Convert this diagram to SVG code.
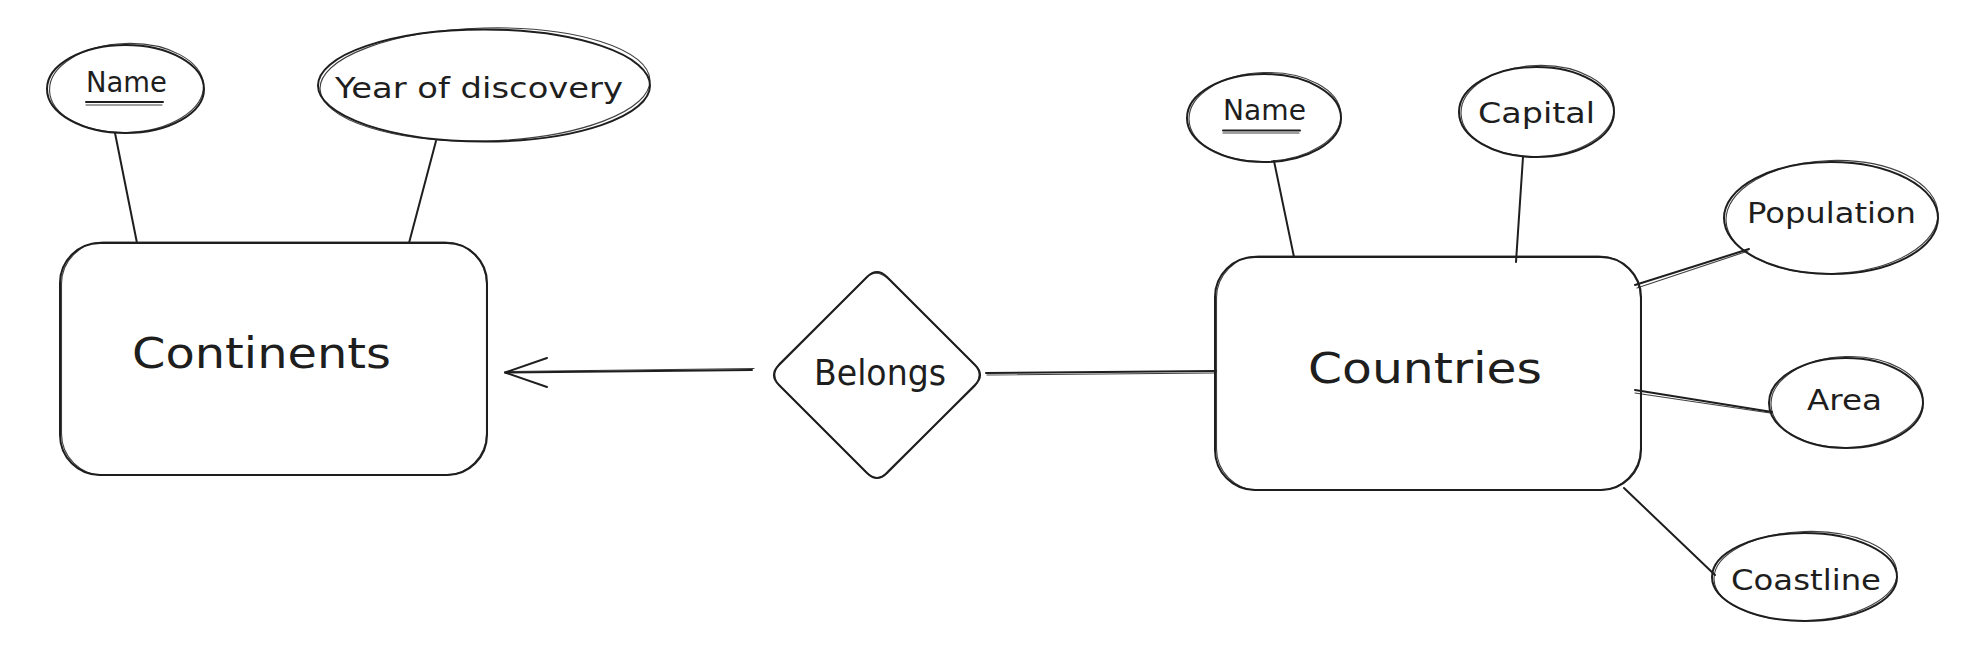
<svg xmlns="http://www.w3.org/2000/svg" width="1972" height="671" viewBox="0 0 1972 671">
<style>
.s{fill:none;stroke:#1e1e1e;stroke-width:2;stroke-linecap:round;stroke-linejoin:round}
.s2{fill:none;stroke:#1e1e1e;stroke-width:1.1;stroke-linecap:round;stroke-linejoin:round;opacity:0.85}
text{font-family:"DejaVu Sans","Liberation Sans",sans-serif;fill:#1e1e1e}
.attr{font-size:29px}
.ent{font-size:42px}
.rel{font-size:36px}
</style>
<rect width="1972" height="671" fill="#ffffff"/>
<g id="connectors">
  <path class="s" d="M115,133 L137,243"/>
  <path class="s" d="M436,141 L409,243"/>
  <path class="s" d="M752,370 L505,372.5"/>
  <path class="s2" d="M754,368.5 L507,371.5"/>
  <path class="s" d="M547,358 L505,372.5 L547,387"/>
  <path class="s" d="M986,373 L1216,371"/>
  <path class="s2" d="M987,375 L1216,373"/>
  <path class="s" d="M1274,161 L1294,257"/>
  <path class="s" d="M1523,157 L1516,262"/>
  <path class="s" d="M1749,249 L1635,285"/>
  <path class="s2" d="M1748,251 L1637,288"/>
  <path class="s" d="M1635,390 L1772,412"/>
  <path class="s2" d="M1635,393 L1770,413"/>
  <path class="s" d="M1624,488 L1715,575"/>
</g>
<g id="continents">
  <rect class="s" x="60" y="243" width="427" height="232" rx="40"/>
  <rect class="s2" x="61.5" y="242" width="425" height="233.5" rx="42"/>
  <text class="ent" x="132" y="368" textLength="259" lengthAdjust="spacingAndGlyphs">Continents</text>
</g>
<g id="continent-name">
  <ellipse class="s" cx="125.5" cy="89" rx="78.5" ry="44"/>
  <ellipse class="s2" cx="126.5" cy="88" rx="77" ry="44.5" transform="rotate(-2 126 88)"/>
  <text class="attr" x="86" y="92" textLength="81" lengthAdjust="spacingAndGlyphs">Name</text>
  <path class="s" d="M86,102 L163,102"/>
  <path class="s2" d="M86,105 L162,105"/>
</g>
<g id="continent-year">
  <ellipse class="s" cx="484" cy="85.5" rx="166" ry="56"/>
  <ellipse class="s2" cx="485" cy="84.5" rx="165" ry="56.5" transform="rotate(-1.5 485 85)"/>
  <text class="attr" x="335" y="98" textLength="288" lengthAdjust="spacingAndGlyphs">Year of discovery</text>
</g>
<g id="belongs">
  <path class="s" d="M887,277 L975,365 Q985,375 975,385 L887,473 Q877,483 867,473 L779,385 Q769,375 779,365 L867,277 Q877,267 887,277 Z"/>
  <path class="s2" d="M888.5,279 L976,366 Q983,375 975,386 L888,471 Q877,484 866,472 L780,386 Q770,376 779,364 L866,278 Q876,268 888.5,279 Z"/>
  <text class="rel" x="814" y="385" textLength="132" lengthAdjust="spacingAndGlyphs">Belongs</text>
</g>
<g id="countries">
  <rect class="s" x="1215" y="257" width="426" height="233" rx="40"/>
  <rect class="s2" x="1216.5" y="256" width="424" height="234.5" rx="42"/>
  <text class="ent" x="1308" y="383" textLength="234" lengthAdjust="spacingAndGlyphs">Countries</text>
</g>
<g id="country-name">
  <ellipse class="s" cx="1264" cy="118" rx="77" ry="44"/>
  <ellipse class="s2" cx="1265" cy="117" rx="76" ry="44.5" transform="rotate(-2 1265 117)"/>
  <text class="attr" x="1223" y="120" textLength="83" lengthAdjust="spacingAndGlyphs">Name</text>
  <path class="s" d="M1223,130.5 L1300,130.5"/>
  <path class="s2" d="M1223,133 L1299,133"/>
</g>
<g id="capital">
  <ellipse class="s" cx="1536.5" cy="112" rx="77.5" ry="45"/>
  <ellipse class="s2" cx="1537.5" cy="111" rx="76.5" ry="45.5" transform="rotate(-2 1537 111)"/>
  <text class="attr" x="1478" y="123" textLength="117" lengthAdjust="spacingAndGlyphs">Capital</text>
</g>
<g id="population">
  <ellipse class="s" cx="1831" cy="218" rx="107" ry="56"/>
  <ellipse class="s2" cx="1832" cy="217" rx="106" ry="56.5" transform="rotate(-2 1832 217)"/>
  <text class="attr" x="1747" y="223" textLength="169" lengthAdjust="spacingAndGlyphs">Population</text>
</g>
<g id="area">
  <ellipse class="s" cx="1846" cy="403" rx="77" ry="45"/>
  <ellipse class="s2" cx="1847" cy="402" rx="76" ry="45.5" transform="rotate(-2 1847 402)"/>
  <text class="attr" x="1807" y="410" textLength="75" lengthAdjust="spacingAndGlyphs">Area</text>
</g>
<g id="coastline">
  <ellipse class="s" cx="1804.5" cy="577" rx="92.5" ry="44"/>
  <ellipse class="s2" cx="1805.5" cy="576" rx="91.5" ry="44.5" transform="rotate(-2 1805 576)"/>
  <text class="attr" x="1731" y="590" textLength="150" lengthAdjust="spacingAndGlyphs">Coastline</text>
</g>
</svg>
